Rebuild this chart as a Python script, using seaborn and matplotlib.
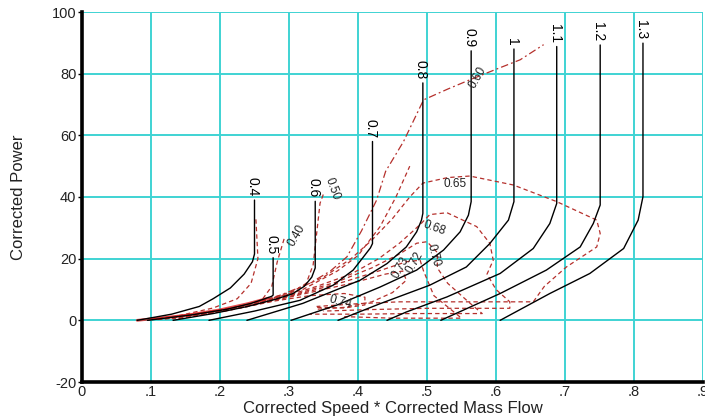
import matplotlib
matplotlib.use("Agg")
import matplotlib.pyplot as plt
import seaborn as sns
import pandas as pd
import numpy as np

# ---------------- data ----------------
speed_labels = ["0.4", "0.5", "0.6", "0.7", "0.8", "0.9", "1", "1.1", "1.2", "1.3"]

s04_x = [0.080, 0.130, 0.170, 0.190, 0.215, 0.235, 0.247, 0.250, 0.250]
s04_y = [0.0, 2.0, 4.5, 7.0, 10.5, 15.0, 19.0, 21.5, 39.0]
s05_x = [0.095, 0.160, 0.210, 0.245, 0.265, 0.275, 0.277, 0.277]
s05_y = [0.0, 1.8, 3.6, 5.5, 7.0, 7.8, 8.2, 20.3]
s06_x = [0.132, 0.190, 0.240, 0.280, 0.305, 0.322, 0.333, 0.338, 0.338]
s06_y = [0.0, 2.2, 4.5, 6.8, 8.6, 11.0, 14.0, 17.0, 38.6]
s07_x = [0.184, 0.250, 0.316, 0.364, 0.393, 0.408, 0.418, 0.421, 0.421]
s07_y = [0.0, 3.0, 6.5, 11.4, 16.3, 20.6, 23.5, 24.9, 58.0]
s08_x = [0.239, 0.320, 0.403, 0.442, 0.470, 0.485, 0.492, 0.494, 0.494]
s08_y = [0.0, 5.5, 13.0, 18.4, 23.8, 28.7, 32.5, 34.7, 77.0]
s09_x = [0.303, 0.370, 0.432, 0.485, 0.524, 0.548, 0.560, 0.564, 0.564]
s09_y = [0.0, 5.0, 10.8, 16.3, 22.8, 28.7, 34.1, 38.5, 87.4]
s10_x = [0.371, 0.432, 0.504, 0.557, 0.591, 0.618, 0.626, 0.626]
s10_y = [0.0, 5.4, 11.4, 17.3, 24.9, 32.5, 38.5, 88.0]
s11_x = [0.442, 0.470, 0.529, 0.606, 0.654, 0.678, 0.688, 0.688]
s11_y = [0.0, 2.7, 7.6, 15.2, 23.3, 31.4, 37.9, 88.8]
s12_x = [0.520, 0.606, 0.673, 0.722, 0.741, 0.751, 0.751]
s12_y = [0.0, 8.7, 16.3, 23.8, 31.4, 37.4, 89.3]
s13_x = [0.606, 0.678, 0.736, 0.785, 0.806, 0.813, 0.813]
s13_y = [0.0, 8.7, 15.2, 23.3, 32.5, 40.1, 89.9]

speed_xs = [s04_x, s05_x, s06_x, s07_x, s08_x, s09_x, s10_x, s11_x, s12_x, s13_x]
speed_ys = [s04_y, s05_y, s06_y, s07_y, s08_y, s09_y, s10_y, s11_y, s12_y, s13_y]

# efficiency contours
e40_x = [0.140, 0.190, 0.225, 0.245, 0.255, 0.252]
e40_y = [1.5, 4.0, 7.0, 12.0, 20.0, 33.0]
e40b_x = [0.262, 0.275, 0.283, 0.293]
e40b_y = [7.0, 11.0, 19.0, 26.5]
e50_x = [0.100, 0.180, 0.250, 0.300, 0.325, 0.335, 0.340, 0.345, 0.350]
e50_y = [0.3, 2.5, 5.5, 8.5, 12.0, 18.0, 28.0, 38.0, 41.0]
e50b_x = [0.140, 0.240, 0.320, 0.370, 0.400, 0.432, 0.455, 0.475]
e50b_y = [0.8, 4.5, 10.0, 16.0, 21.0, 30.4, 40.0, 50.0]
e60_x = [0.100, 0.160, 0.220, 0.280, 0.330, 0.360, 0.384, 0.405, 0.427, 0.440, 0.466, 0.495,
         0.530, 0.562, 0.601, 0.635, 0.669]
e60_y = [0.3, 2.0, 4.0, 7.5, 12.0, 16.0, 20.6, 29.0, 39.0, 48.3, 58.0, 71.5,
         75.0, 78.0, 81.5, 84.5, 89.4]
e65_x = [0.110, 0.180, 0.240, 0.300, 0.350, 0.390, 0.420, 0.450, 0.475, 0.494, 0.530, 0.562,
         0.625, 0.688, 0.746, 0.751, 0.746, 0.702, 0.670, 0.654, 0.550, 0.460, 0.400, 0.340]
e65_y = [0.3, 2.5, 5.0, 9.0, 14.0, 20.0, 26.0, 33.0, 40.0, 44.5, 46.3, 46.8,
         43.9, 38.5, 32.5, 28.2, 23.8, 17.3, 11.0, 6.0, 6.0, 6.0, 5.4, 4.5]
e68_x = [0.100, 0.170, 0.230, 0.290, 0.340, 0.390, 0.430, 0.460, 0.480, 0.492, 0.504, 0.529,
         0.572, 0.591, 0.596, 0.587, 0.600, 0.620, 0.620, 0.500, 0.420, 0.350]
e68_y = [0.3, 2.2, 4.5, 7.5, 11.0, 15.0, 20.0, 25.0, 29.0, 31.5, 34.3, 34.9,
         30.4, 25.0, 19.5, 15.0, 10.0, 6.0, 3.9, 3.9, 3.5, 3.0]
e70_x = [0.110, 0.180, 0.250, 0.310, 0.370, 0.420, 0.460, 0.485, 0.500, 0.515, 0.515, 0.530,
         0.560, 0.580, 0.480, 0.400, 0.330]
e70_y = [0.3, 2.4, 5.2, 8.5, 12.5, 17.0, 21.5, 25.0, 25.5, 22.0, 17.0, 12.0,
         6.0, 2.2, 2.2, 2.0, 2.0]
e72_x = [0.120, 0.190, 0.260, 0.320, 0.380, 0.430, 0.470, 0.490, 0.495, 0.510, 0.550, 0.450, 0.380]
e72_y = [0.4, 2.6, 5.6, 8.8, 12.5, 16.0, 19.0, 19.5, 16.0, 8.0, 0.7, 0.7, 1.2]
e73_x = [0.130, 0.200, 0.270, 0.330, 0.390, 0.440, 0.465, 0.470, 0.450, 0.420, 0.380, 0.340]
e73_y = [0.5, 2.8, 6.0, 9.0, 12.0, 15.0, 16.0, 13.0, 9.0, 6.0, 4.2, 3.6]
e74_x = [0.140, 0.210, 0.280, 0.330, 0.380, 0.410, 0.410, 0.380, 0.340]
e74_y = [0.6, 3.1, 6.3, 8.0, 8.7, 7.5, 5.0, 4.0, 4.2]
bundle_x = [0.080, 0.150, 0.200, 0.240, 0.270]
bundle_y = [0.0, 1.6, 3.4, 5.4, 7.2]

eff_labels = ["0.40", "0.50", "0.60", "0.65", "0.68", "0.70", "0.72", "0.73", "0.74"]
eff_label_x = [0.311, 0.362, 0.574, 0.541, 0.510, 0.509, 0.482, 0.462, 0.374]
eff_label_y = [27.6, 42.8, 78.6, 44.3, 30.0, 21.0, 18.7, 17.0, 6.0]
eff_label_rot = [60, -70, 60, 0, -20, -75, 60, 60, -15]

x_ticks = [0, 0.1, 0.2, 0.3, 0.4, 0.5, 0.6, 0.7, 0.8, 0.9]
x_tick_labels = ["0", ".1", ".2", ".3", ".4", ".5", ".6", ".7", ".8", ".9"]
y_ticks = [-20, 0, 20, 40, 60, 80, 100]

# ---------------- style ----------------
sns.set_theme(style="white")
plt.rcParams["font.family"] = ["Liberation Sans", "DejaVu Sans"]
plt.rcParams["axes.unicode_minus"] = False

fig = plt.figure(figsize=(7.05, 4.18), dpi=100)
ax = fig.add_axes([82 / 705, 1 - 382 / 418, 621 / 705, 370 / 418])

GRID = "#3fd3d3"
RED = "#b5302c"

# speed lines
rows = []
for lab, xs, ys in zip(speed_labels, speed_xs, speed_ys):
    for i, (xv, yv) in enumerate(zip(xs, ys)):
        rows.append({"line": lab, "order": i, "x": xv, "y": yv})
df_speed = pd.DataFrame(rows)
sns.lineplot(data=df_speed, x="x", y="y", units="line", estimator=None, sort=False,
             color="black", linewidth=1.0, ax=ax, legend=False, zorder=3)

# efficiency contours
dash = (0, (3.5, 2.5))
dashdot = (0, (6, 2.5, 1.5, 2.5))
contours = [
    (e40_x, e40_y, dash), (e40b_x, e40b_y, dash),
    (e50_x, e50_y, dash), (e50b_x, e50b_y, dash),
    (e60_x, e60_y, dashdot), (e65_x, e65_y, dash),
    (e68_x, e68_y, dash), (e70_x, e70_y, dash),
    (e72_x, e72_y, dash), (e73_x, e73_y, dash),
    (e74_x, e74_y, dash),
]
for xs, ys, ls in contours:
    sns.lineplot(x=xs, y=ys, sort=False, estimator=None, color=RED, linewidth=0.9,
                 linestyle=ls, ax=ax, zorder=2)
sns.lineplot(x=bundle_x, y=bundle_y, sort=False, estimator=None, color="#e02020",
             linewidth=2.0, alpha=0.8, ax=ax, zorder=2)

# labels
for lab, xs, ys in zip(speed_labels, speed_xs, speed_ys):
    ax.text(xs[-1] - 0.003, ys[-1] + 1.2, lab, rotation=-90, ha="center", va="bottom",
            fontsize=10, color="black", zorder=4)
for lab, lx, ly, rot in zip(eff_labels, eff_label_x, eff_label_y, eff_label_rot):
    ax.text(lx, ly, lab, rotation=rot, ha="center", va="center", fontsize=8.5,
            color="#222222", zorder=4, rotation_mode="anchor")

# axes
ax.set_xlim(0, 0.9)
ax.set_ylim(-20, 100)
ax.set_xticks(x_ticks)
ax.set_xticklabels(x_tick_labels)
ax.set_yticks(y_ticks)
ax.grid(True, color=GRID, linewidth=1.4)
ax.set_axisbelow(True)
for s in ["top", "right"]:
    ax.spines[s].set_visible(False)
for s in ["left", "bottom"]:
    ax.spines[s].set_color("black")
    ax.spines[s].set_linewidth(2.6)
ax.tick_params(axis="both", left=True, bottom=True, direction="out", length=3, width=1,
               color="black", labelsize=10.5, pad=1, labelcolor="#222222")
ax.tick_params(axis="x", length=0, pad=2)
ax.set_xlabel("Corrected Speed * Corrected Mass Flow", fontsize=12, color="#222222")
ax.set_ylabel("Corrected Power", fontsize=12, color="#222222")
ax.xaxis.set_label_coords(0.5, -0.052)
ax.yaxis.set_label_coords(-0.09, 0.5)
ax.set_facecolor("white")
fig.patch.set_facecolor("white")

fig.savefig("out.png", dpi=100)
